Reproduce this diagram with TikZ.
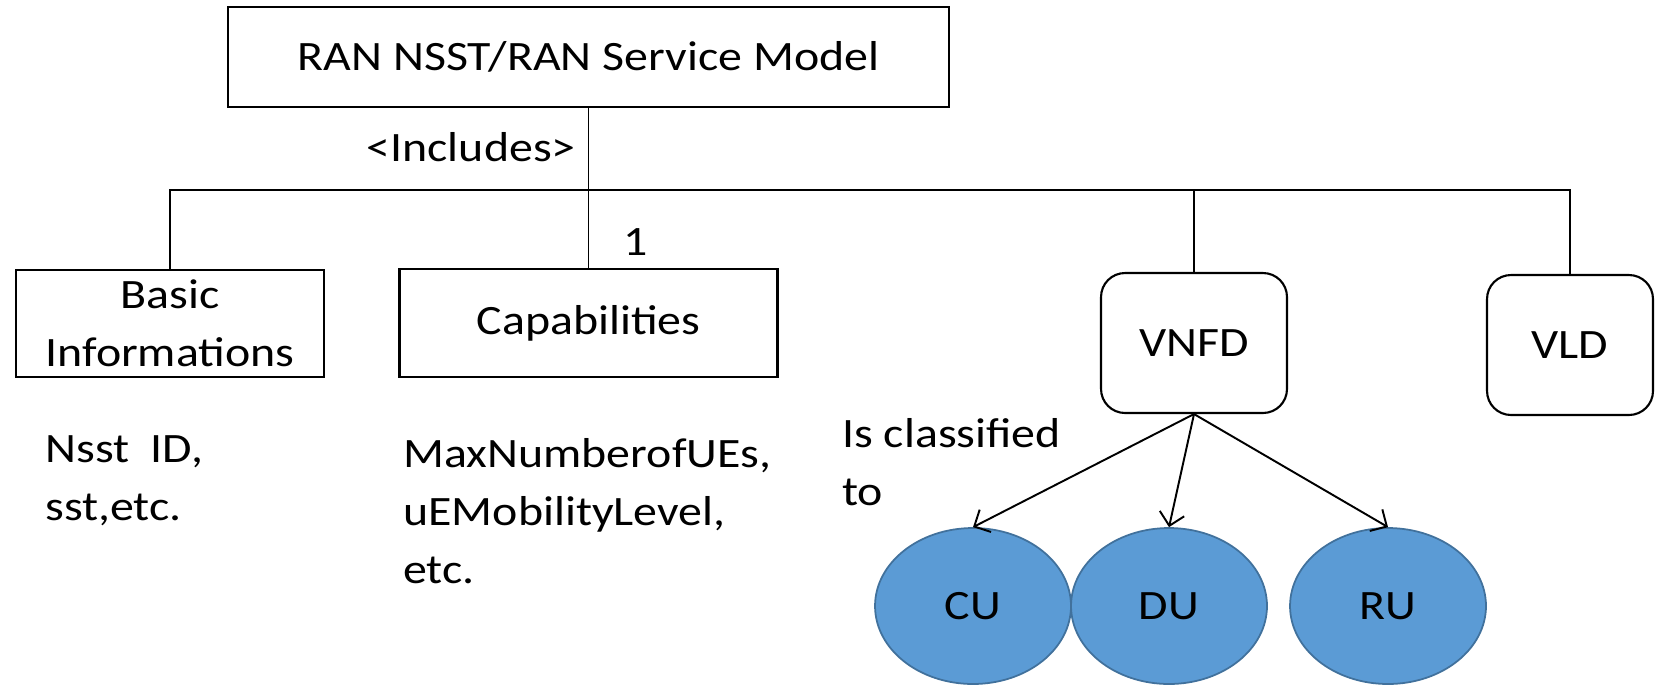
\documentclass[tikz,border=0pt]{standalone}
\usepackage{fontspec}
\setmainfont{Carlito}[FakeStretch=1.145]
\usetikzlibrary{positioning,shapes.geometric,arrows.meta}
\definecolor{unitfill}{HTML}{5B9BD5}
\definecolor{unitedge}{HTML}{41719C}

\begin{document}
\begin{tikzpicture}[
  x=0.02cm, y=-0.02cm,
  every node/.style={font=\fontsize{23.8}{33}\selectfont},
  box/.style={draw, line width=1.2pt, align=center, inner sep=0pt},
  rbox/.style={box, rounded corners=0.48cm},
  unit/.style={ellipse, draw=unitedge, fill=unitfill, line width=1pt,
    minimum width=3.92cm, minimum height=3.12cm, inner sep=0pt},
  lbl/.style={align=left, inner sep=0pt},
  link/.style={line width=0.8pt},
  >={Straight Barb[length=2.5mm,width=5mm]}
]
\useasboundingbox (0,0) rectangle (1655,684);

% descriptors
\node[box, minimum width=14.42cm, minimum height=2cm] (nsst) at (588.5,57) {RAN NSST/RAN Service Model};
\node[box, minimum width=6.16cm, minimum height=2.14cm] (basic) at (170,323.5) {Basic\\Informations};
\node[box, minimum width=7.56cm, minimum height=2.16cm] (cap) at (588.5,323) {Capabilities};
\node[rbox, minimum width=3.72cm, minimum height=2.8cm] (vnfd) at (1194,343) {VNFD};
\node[rbox, minimum width=3.32cm, minimum height=2.8cm] (vld) at (1570,345) {VLD};

% network functions
\node[unit] (cu) at (973,606) {CU};
\node[unit] (du) at (1169,606) {DU};
\node[unit] (ru) at (1388,606) {RU};

% labels
\node[lbl, anchor=east] (incl) at (576,147) {<Includes>};
\node[lbl] (mult) at (636,242) {1};
\node[lbl, anchor=north west] (basicinfo) at (45,435) {Nsst\ \ ID,\\sst,etc.};
\node[lbl, anchor=north west] (capinfo) at (403,438) {MaxNumberofUEs,\\uEMobilityLevel,\\etc.};
\node[lbl, anchor=north west] (classed) at (842,418) {Is classified\\to};

% tree
\coordinate (bus) at (588.5,190);
\draw[link] (nsst) -- (bus);
\draw[link] (bus) -| (basic);
\draw[link] (bus) -- (cap);
\draw[link] (bus) -| (vnfd);
\draw[link] (bus) -| (vld);

\draw[->, line width=1.1pt] (vnfd.south) -- (cu.north);
\draw[->, line width=1.1pt] (vnfd.south) -- (du.north);
\draw[->, line width=1.1pt] (vnfd.south) -- (ru.north);
\end{tikzpicture}
\end{document}
